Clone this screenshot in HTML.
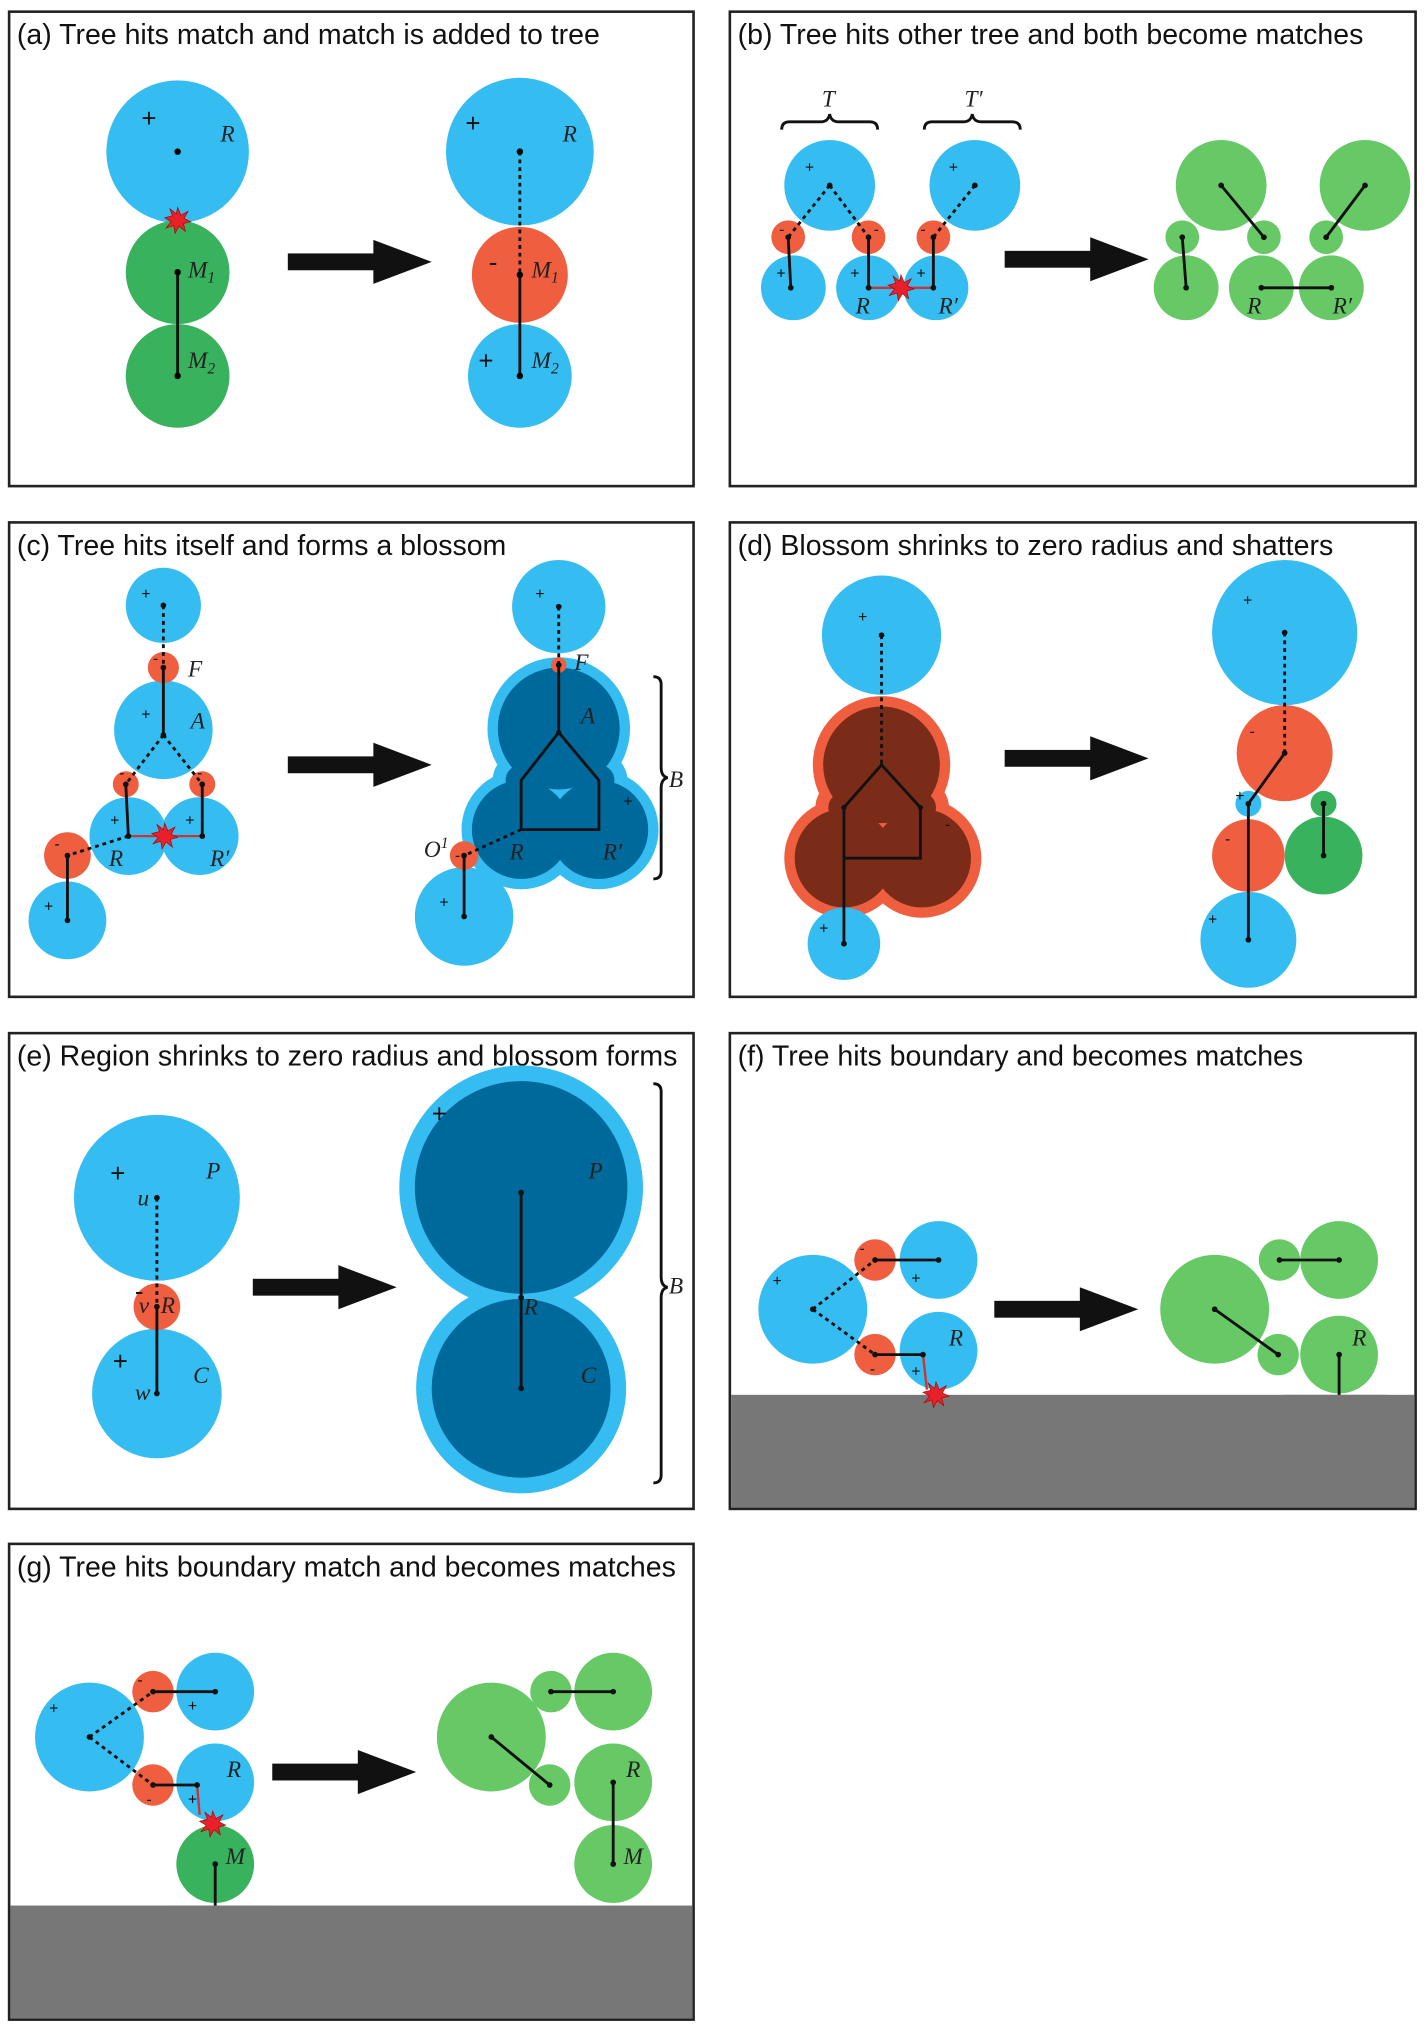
<!DOCTYPE html>
<html><head><meta charset="utf-8"><style>
html,body{margin:0;padding:0;background:#fff;}
svg{display:block;}
.t{font-family:"Liberation Sans",sans-serif;font-size:22px;fill:#111;}
.l{font-family:"Liberation Serif",serif;font-style:italic;font-size:18px;fill:#222;}
.p{font-family:"Liberation Sans",sans-serif;font-size:12px;fill:#111;}
.P{font-family:"Liberation Sans",sans-serif;font-size:20px;fill:#111;}
.s{stroke:#111;stroke-width:2.2;fill:none;}
.d{stroke:#111;stroke-width:2.2;fill:none;stroke-dasharray:3,3;}
.r{stroke:#c33;stroke-width:1.8;fill:none;}
.B{fill:#35bdf2}.G{fill:#38b25c}.g{fill:#66c966}.R{fill:#ef5e3e}.DB{fill:#00699c}.DR{fill:#7a2c19}
</style></head><body>
<svg width="1426" height="2030" viewBox="0 0 1100 1566" xmlns="http://www.w3.org/2000/svg">
<defs>
<g id="arrow"><rect x="0" y="-6.5" width="70" height="13" fill="#111"/><polygon points="66,-17 111,0 66,17" fill="#111"/></g>
<polygon id="star" points="0,-10 2.5,-4 8,-7 5,-1.5 10,1 4.5,2.5 6,8.5 1,4.5 -2,10 -3,4 -9,6 -5,1 -10,-2 -4,-3.5 -6,-9 -1,-5" fill="#e8202a" stroke="#a00" stroke-width="0.5"/>
</defs>
<g fill="none" stroke="#222" stroke-width="2">
<rect x="7" y="9" width="528" height="366"/><rect x="563" y="9" width="529" height="366"/>
<rect x="7" y="403" width="528" height="366"/><rect x="563" y="403" width="529" height="366"/>
<rect x="7" y="797" width="528" height="367"/><rect x="563" y="797" width="529" height="367"/>
<rect x="7" y="1191" width="528" height="367"/>
</g>
<rect x="564" y="1076" width="527" height="87" fill="#777"/>
<rect x="8" y="1470" width="526" height="87" fill="#777"/>
<text class="t" x="13" y="34">(a) Tree hits match and match is added to tree</text>
<text class="t" x="569" y="34">(b) Tree hits other tree and both become matches</text>
<text class="t" x="13" y="428">(c) Tree hits itself and forms a blossom</text>
<text class="t" x="569" y="428">(d) Blossom shrinks to zero radius and shatters</text>
<text class="t" x="13" y="822">(e) Region shrinks to zero radius and blossom forms</text>
<text class="t" x="569" y="822">(f) Tree hits boundary and becomes matches</text>
<text class="t" x="13" y="1216">(g) Tree hits boundary match and becomes matches</text>

<!-- (a) -->
<circle class="B" cx="137" cy="117" r="55"/><circle class="G" cx="137" cy="210" r="40"/><circle class="G" cx="137" cy="290" r="40"/>
<line class="s" x1="137" y1="210" x2="137" y2="290"/>
<circle cx="137" cy="117" r="2.5"/><circle cx="137" cy="210" r="2.5"/><circle cx="137" cy="290" r="2.5"/>
<use href="#star" x="137" y="170"/>
<text class="P" x="109" y="98">+</text><text class="l" x="170" y="109">R</text>
<text class="l" x="145" y="214">M<tspan font-size="12" dy="4">1</tspan></text><text class="l" x="145" y="284">M<tspan font-size="12" dy="4">2</tspan></text>
<use href="#arrow" x="222" y="202"/>
<circle class="B" cx="401" cy="117" r="57"/><circle class="B" cx="401" cy="290" r="40"/><circle class="R" cx="401" cy="212" r="37"/>
<line class="d" x1="401" y1="117" x2="401" y2="212"/><line class="s" x1="401" y1="212" x2="401" y2="290"/>
<circle cx="401" cy="117" r="2.5"/><circle cx="401" cy="212" r="2.5"/><circle cx="401" cy="290" r="2.5"/>
<text class="P" x="359" y="102">+</text><text class="P" x="377" y="209">-</text><text class="P" x="369" y="285">+</text>
<text class="l" x="434" y="109">R</text>
<text class="l" x="410" y="214">M<tspan font-size="12" dy="4">1</tspan></text><text class="l" x="410" y="284">M<tspan font-size="12" dy="4">2</tspan></text>

<!-- (b) -->
<path class="s" stroke-width="1.2" d="M603,100 q0,-6 6,-6 h24 q6,0 7,-6 q1,6 7,6 h24 q6,0 6,6"/>
<path class="s" stroke-width="1.2" d="M713,100 q0,-6 6,-6 h24 q6,0 7,-6 q1,6 7,6 h24 q6,0 6,6"/>
<text class="l" x="634" y="82">T</text><text class="l" x="744" y="82">T′</text>
<circle class="B" cx="640" cy="143" r="35"/><circle class="B" cx="752" cy="143" r="35"/>
<circle class="B" cx="612" cy="222" r="25"/><circle class="B" cx="670" cy="222" r="25"/><circle class="B" cx="722" cy="222" r="25"/>
<circle class="R" cx="608" cy="183" r="13"/><circle class="R" cx="670" cy="183" r="13"/><circle class="R" cx="720" cy="183" r="13"/>
<path class="d" d="M640,143 L608,183 M640,143 L670,183 M752,143 L720,183"/>
<path class="s" d="M608,183 L610,222 M670,183 L670,222 M720,183 L720,222"/>
<line class="r" x1="670" y1="222" x2="720" y2="222"/>
<g fill="#111"><circle cx="640" cy="143" r="2.2"/><circle cx="752" cy="143" r="2.2"/><circle cx="608" cy="183" r="2.2"/><circle cx="670" cy="183" r="2.2"/><circle cx="720" cy="183" r="2.2"/><circle cx="610" cy="222" r="2.2"/><circle cx="670" cy="222" r="2.2"/><circle cx="720" cy="222" r="2.2"/></g>
<use href="#star" x="695" y="222"/>
<text class="p" x="621" y="133">+</text><text class="p" x="732" y="133">+</text><text class="p" x="599" y="215">+</text><text class="p" x="656" y="215">+</text><text class="p" x="707" y="215">+</text>
<text class="p" x="601" y="181">-</text><text class="p" x="674" y="181">-</text><text class="p" x="710" y="181">-</text>
<text class="l" x="660" y="242">R</text><text class="l" x="724" y="242">R′</text>
<use href="#arrow" x="775" y="200"/>
<circle class="g" cx="942" cy="143" r="35"/><circle class="g" cx="1053" cy="143" r="35"/>
<circle class="g" cx="915" cy="222" r="25"/><circle class="g" cx="973" cy="222" r="25"/><circle class="g" cx="1027" cy="222" r="25"/>
<circle class="g" cx="912" cy="183" r="13"/><circle class="g" cx="975" cy="183" r="13"/><circle class="g" cx="1023" cy="183" r="13"/>
<path class="s" d="M942,143 L975,183 M1053,143 L1023,183 M912,183 L915,222 M973,222 L1027,222"/>
<g fill="#111"><circle cx="942" cy="143" r="2.2"/><circle cx="1053" cy="143" r="2.2"/><circle cx="912" cy="183" r="2.2"/><circle cx="975" cy="183" r="2.2"/><circle cx="1023" cy="183" r="2.2"/><circle cx="915" cy="222" r="2.2"/><circle cx="973" cy="222" r="2.2"/><circle cx="1027" cy="222" r="2.2"/></g>
<text class="l" x="962" y="242">R</text><text class="l" x="1028" y="242">R′</text>

<!-- (c) -->
<circle class="B" cx="126" cy="467" r="29"/><circle class="B" cx="126" cy="563" r="38"/>
<circle class="B" cx="99" cy="645" r="30"/><circle class="B" cx="154" cy="645" r="30"/><circle class="B" cx="52" cy="710" r="30"/>
<circle class="R" cx="126" cy="515" r="12"/><circle class="R" cx="97" cy="605" r="10"/><circle class="R" cx="156" cy="605" r="10"/><circle class="R" cx="52" cy="660" r="18"/>
<path class="d" d="M126,467 L126,515 M126,567 L97,605 M126,567 L156,605 M99,645 L52,660"/>
<path class="s" d="M126,515 L126,567 M97,605 L99,645 M156,605 L156,645 M52,660 L52,710"/>
<line class="r" x1="99" y1="645" x2="154" y2="645"/>
<g fill="#111"><circle cx="126" cy="467" r="2.2"/><circle cx="126" cy="515" r="2.2"/><circle cx="126" cy="567" r="2.2"/><circle cx="97" cy="605" r="2.2"/><circle cx="156" cy="605" r="2.2"/><circle cx="99" cy="645" r="2.2"/><circle cx="156" cy="645" r="2.2"/><circle cx="52" cy="660" r="2.2"/><circle cx="52" cy="710" r="2.2"/></g>
<use href="#star" x="127" y="645"/>
<text class="p" x="109" y="462">+</text><text class="p" x="109" y="555">+</text><text class="p" x="85" y="637">+</text><text class="p" x="143" y="637">+</text><text class="p" x="34" y="703">+</text>
<text class="p" x="118" y="512">-</text><text class="p" x="92" y="600">-</text><text class="p" x="152" y="600">-</text><text class="p" x="42" y="655">-</text>
<text class="l" x="145" y="522">F</text><text class="l" x="147" y="562">A</text><text class="l" x="84" y="668">R</text><text class="l" x="162" y="668">R′</text>
<use href="#arrow" x="222" y="590"/>
<circle class="B" cx="431" cy="468" r="36"/>
<g class="B"><circle cx="431" cy="562" r="55"/><circle cx="402" cy="602" r="22"/><circle cx="462" cy="602" r="22"/><circle cx="402" cy="640" r="46"/><circle cx="462" cy="640" r="46"/></g>
<g class="DB"><circle cx="431" cy="562" r="47"/><circle cx="402" cy="602" r="12"/><circle cx="462" cy="602" r="12"/><circle cx="402" cy="640" r="38"/><circle cx="462" cy="640" r="38"/></g>
<circle class="R" cx="431" cy="513" r="6"/><circle class="B" cx="358" cy="707" r="38"/><circle class="R" cx="358" cy="660" r="11"/>
<path class="d" d="M431,468 L431,513 M402,640 L358,660"/>
<path class="s" stroke-width="1.8" d="M431,513 L431,565 L402,602 L402,640 L462,640 L462,602 L431,565 M358,660 L358,707"/>
<g fill="#111"><circle cx="431" cy="468" r="2.2"/><circle cx="431" cy="513" r="2.2"/><circle cx="431" cy="565" r="2"/><circle cx="358" cy="660" r="2.2"/><circle cx="358" cy="707" r="2.2"/></g>
<text class="p" x="413" y="462">+</text><text class="p" x="481" y="622">+</text><text class="p" x="339" y="700">+</text><text class="p" x="351" y="664">-</text>
<text class="l" x="443" y="517">F</text><text class="l" x="448" y="558">A</text><text class="l" x="393" y="663">R</text><text class="l" x="465" y="663">R′</text>
<text class="l" x="327" y="661">O<tspan font-size="12" dy="-7">1</tspan></text>
<path class="s" stroke-width="1.2" d="M504,522 q6,0 6,6 v64 q0,7 5,8 q-5,1 -5,8 v64 q0,6 -6,6"/>
<text class="l" x="516" y="607">B</text>

<!-- (d) -->
<circle class="B" cx="680" cy="490" r="46"/>
<g class="R"><circle cx="680" cy="590" r="53"/><circle cx="651" cy="623" r="22"/><circle cx="710" cy="623" r="22"/><circle cx="651" cy="662" r="46"/><circle cx="711" cy="662" r="46"/></g>
<g class="DR"><circle cx="680" cy="590" r="45"/><circle cx="651" cy="623" r="12"/><circle cx="710" cy="623" r="12"/><circle cx="651" cy="662" r="38"/><circle cx="711" cy="662" r="38"/></g>
<circle class="B" cx="651" cy="728" r="28"/>
<path class="d" d="M680,490 L680,590"/>
<path class="s" stroke-width="1.8" d="M651,728 L651,623 L680,590 L710,623 L710,662 L651,662"/>
<g fill="#111"><circle cx="680" cy="490" r="2.2"/><circle cx="651" cy="728" r="2.2"/><circle cx="651" cy="623" r="2"/><circle cx="710" cy="623" r="2"/></g>
<text class="p" x="662" y="480">+</text><text class="p" x="632" y="720">+</text><text class="p" x="729" y="640">-</text>
<use href="#arrow" x="775" y="585"/>
<circle class="B" cx="991" cy="488" r="56"/><circle class="B" cx="963" cy="725" r="37"/>
<circle class="R" cx="991" cy="581" r="37"/><circle class="R" cx="963" cy="660" r="28"/><circle class="B" cx="963" cy="620" r="10"/>
<circle class="G" cx="1021" cy="660" r="30"/><circle class="G" cx="1021" cy="620" r="10"/>
<path class="d" d="M991,488 L991,581"/>
<path class="s" d="M991,581 L963,620 L963,725 M1021,620 L1021,660"/>
<g fill="#111"><circle cx="991" cy="488" r="2.2"/><circle cx="991" cy="581" r="2.2"/><circle cx="963" cy="620" r="2.2"/><circle cx="963" cy="725" r="2.2"/><circle cx="1021" cy="620" r="2.2"/><circle cx="1021" cy="660" r="2.2"/></g>
<text class="p" x="959" y="467">+</text><text class="p" x="964" y="568">-</text><text class="p" x="953" y="618">+</text><text class="p" x="945" y="651">-</text><text class="p" x="932" y="713">+</text>

<!-- (e) -->
<circle class="B" cx="121" cy="924" r="64"/><circle class="B" cx="121" cy="1075" r="50"/><circle class="R" cx="121" cy="1008" r="18"/>
<path class="d" d="M121,924 L121,1008"/><path class="s" d="M121,1008 L121,1075"/>
<g fill="#111"><circle cx="121" cy="924" r="2.2"/><circle cx="121" cy="1008" r="2.2"/><circle cx="121" cy="1075" r="2.2"/></g>
<text class="P" x="85" y="912">+</text><text class="P" x="87" y="1057">+</text><text class="P" x="104" y="1003">-</text>
<text class="l" x="159" y="909">P</text><text class="l" x="106" y="930">u</text><text class="l" x="107" y="1013">v</text><text class="l" x="124" y="1013">R</text><text class="l" x="104" y="1080">w</text><text class="l" x="149" y="1067">C</text>
<use href="#arrow" x="195" y="993"/>
<circle class="B" cx="402" cy="916" r="94"/><circle class="B" cx="402" cy="1071" r="81"/>
<circle class="DB" cx="402" cy="916" r="82"/><circle class="DB" cx="402" cy="1071" r="69"/>
<path class="s" d="M402,920 L402,1071"/>
<g fill="#111"><circle cx="402" cy="920" r="2.2"/><circle cx="402" cy="1001" r="2.2"/><circle cx="402" cy="1071" r="2.2"/></g>
<text class="P" x="333" y="866">+</text>
<text class="l" x="454" y="909">P</text><text class="l" x="404" y="1014">R</text><text class="l" x="448" y="1067">C</text>
<path class="s" stroke-width="1.2" d="M504,836 q6,0 6,6 v143 q0,7 5,8 q-5,1 -5,8 v137 q0,6 -6,6"/>
<text class="l" x="516" y="998">B</text>

<!-- (f) -->
<circle class="B" cx="627" cy="1010" r="42"/><circle class="B" cx="724" cy="972" r="30"/><circle class="B" cx="724" cy="1042" r="30"/>
<circle class="R" cx="675" cy="972" r="16"/><circle class="R" cx="675" cy="1045" r="16"/>
<path class="d" d="M627,1010 L675,972 M627,1010 L675,1045"/>
<path class="s" d="M675,972 L724,972 M675,1045 L712,1045"/>
<line class="r" x1="712" y1="1045" x2="715" y2="1072"/>
<g fill="#111"><circle cx="627" cy="1010" r="2.2"/><circle cx="675" cy="972" r="2.2"/><circle cx="724" cy="972" r="2.2"/><circle cx="675" cy="1045" r="2.2"/><circle cx="712" cy="1045" r="2.2"/></g>
<use href="#star" x="722" y="1076"/>
<text class="p" x="596" y="992">+</text><text class="p" x="703" y="990">+</text><text class="p" x="703" y="1062">+</text><text class="p" x="663" y="967">-</text><text class="p" x="671" y="1060">-</text>
<text class="l" x="732" y="1038">R</text>
<use href="#arrow" x="767" y="1010"/>
<circle class="g" cx="937" cy="1010" r="42"/><circle class="g" cx="1033" cy="972" r="30"/><circle class="g" cx="1033" cy="1045" r="30"/>
<circle class="g" cx="987" cy="972" r="16"/><circle class="g" cx="986" cy="1045" r="16"/>
<rect x="990" y="1076" width="80" height="10" fill="#777"/>
<path class="s" d="M937,1010 L986,1045 M987,972 L1033,972 M1033,1045 L1033,1076"/>
<g fill="#111"><circle cx="937" cy="1010" r="2.2"/><circle cx="986" cy="1045" r="2.2"/><circle cx="987" cy="972" r="2.2"/><circle cx="1033" cy="972" r="2.2"/><circle cx="1033" cy="1045" r="2.2"/></g>
<text class="l" x="1043" y="1038">R</text>

<!-- (g) -->
<circle class="B" cx="69" cy="1340" r="42"/><circle class="B" cx="166" cy="1305" r="30"/><circle class="B" cx="166" cy="1375" r="30"/>
<circle class="G" cx="166" cy="1438" r="30"/>
<rect x="130" y="1470" width="80" height="10" fill="#777"/>
<circle class="R" cx="118" cy="1305" r="16"/><circle class="R" cx="118" cy="1377" r="16"/>
<path class="d" d="M69,1340 L118,1305 M69,1340 L118,1377"/>
<path class="s" d="M118,1305 L166,1305 M118,1377 L152,1377 M166,1438 L166,1470"/>
<line class="r" x1="152" y1="1377" x2="154" y2="1400"/>
<g fill="#111"><circle cx="69" cy="1340" r="2.2"/><circle cx="118" cy="1305" r="2.2"/><circle cx="166" cy="1305" r="2.2"/><circle cx="118" cy="1377" r="2.2"/><circle cx="152" cy="1377" r="2.2"/><circle cx="166" cy="1438" r="2.2"/></g>
<use href="#star" x="164" y="1407"/>
<text class="p" x="38" y="1322">+</text><text class="p" x="145" y="1320">+</text><text class="p" x="145" y="1392">+</text><text class="p" x="106" y="1300">-</text><text class="p" x="113" y="1392">-</text>
<text class="l" x="175" y="1371">R</text><text class="l" x="174" y="1438">M</text>
<use href="#arrow" x="210" y="1367"/>
<circle class="g" cx="379" cy="1340" r="42"/><circle class="g" cx="473" cy="1305" r="30"/><circle class="g" cx="473" cy="1375" r="30"/><circle class="g" cx="473" cy="1438" r="30"/>
<circle class="g" cx="425" cy="1305" r="16"/><circle class="g" cx="424" cy="1377" r="16"/>
<path class="s" d="M379,1340 L424,1377 M425,1305 L473,1305 M473,1375 L473,1438"/>
<g fill="#111"><circle cx="379" cy="1340" r="2.2"/><circle cx="424" cy="1377" r="2.2"/><circle cx="425" cy="1305" r="2.2"/><circle cx="473" cy="1305" r="2.2"/><circle cx="473" cy="1375" r="2.2"/><circle cx="473" cy="1438" r="2.2"/></g>
<text class="l" x="483" y="1371">R</text><text class="l" x="481" y="1438">M</text>
</svg>
</body></html>
